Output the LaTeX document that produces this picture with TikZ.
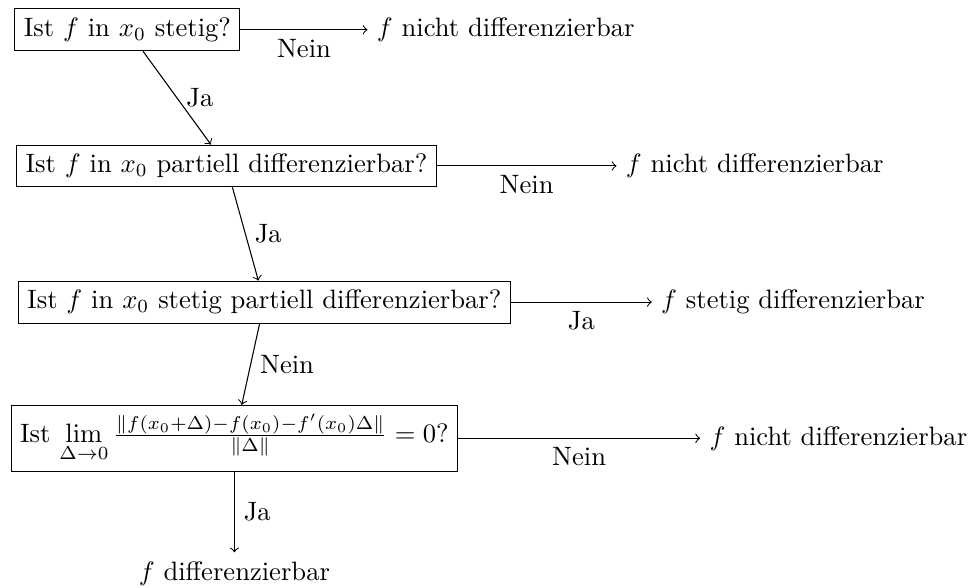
\documentclass[tikz,border=0pt]{standalone}
\usepackage{amsmath,amssymb}
\usetikzlibrary{positioning}
\tikzset{q/.style={draw,rectangle,anchor=west},arr/.style={->}}
\begin{document}
\begin{tikzpicture}
\useasboundingbox(0,0)rectangle(364pt,-221pt);
\node[q](q1)at(5.4pt,-11.2pt){Ist $f$ in $x_0$ stetig?};
\node[q](q2)at(6.1pt,-62.4pt){Ist $f$ in $x_0$ partiell differenzierbar?};
\node[q](q3)at(6.7pt,-113.6pt){Ist $f$ in $x_0$ stetig partiell differenzierbar?};
\node[q](q4)at(4pt,-164.8pt){Ist $\lim\limits_{\Delta\to0}\frac{\|f(x_0+\Delta)-f(x_0)-f'(x_0)\Delta\|}{\|\Delta\|}=0$?};
\node[right=47.8pt of q1](r1){$f$ nicht differenzierbar};
\node[right=67.6pt of q2](r2){$f$ nicht differenzierbar};
\node[right=53pt of q3](r3){$f$ stetig differenzierbar};
\node[right=91pt of q4](r4){$f$ nicht differenzierbar};
\node[below=30.3pt of q4](r5){$f$ differenzierbar};
\foreach\a/\b/\t in{q1/q2/Ja,q2/q3/Ja,q3/q4/Nein,q4/r5/Ja}\draw[arr](\a)--node[right]{\t}(\b);
\foreach\a/\b/\t in{q1/r1/Nein,q2/r2/Nein,q3/r3/Ja,q4/r4/Nein}\draw[arr](\a)--node[below]{\t}(\b);
\end{tikzpicture}
\end{document}
